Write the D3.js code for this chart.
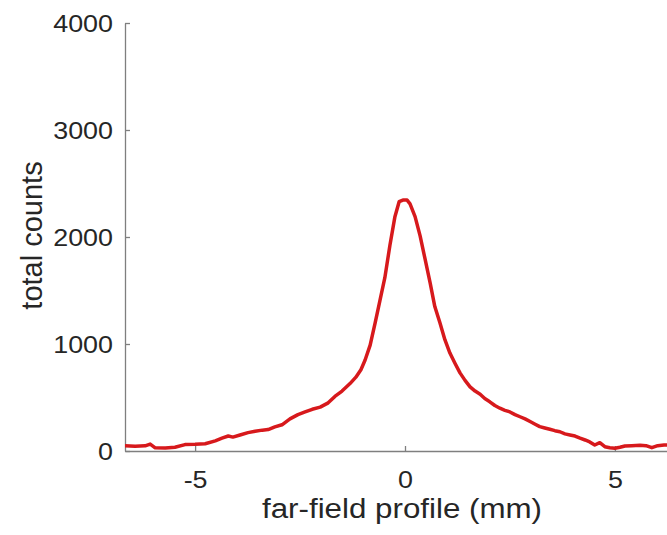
<!DOCTYPE html>
<html><head><meta charset="utf-8">
<script src="https://cdn.jsdelivr.net/npm/d3@7"></script>
<style>body{margin:0;background:#fff}svg{display:block}</style>
</head><body>
<script>
const positionMm = [-6.67,-6.43,-6.19,-6.07,-5.95,-5.71,-5.48,-5.24,-5.00,-4.76,-4.52,-4.36,-4.21,-4.10,-3.93,-3.74,-3.57,-3.40,-3.26,-3.10,-2.93,-2.74,-2.55,-2.38,-2.21,-2.02,-1.83,-1.67,-1.50,-1.31,-1.17,-1.05,-0.95,-0.83,-0.71,-0.60,-0.48,-0.36,-0.24,-0.14,-0.05,0.05,0.12,0.24,0.36,0.48,0.60,0.71,0.83,0.95,1.07,1.19,1.31,1.43,1.55,1.67,1.79,1.90,2.02,2.14,2.26,2.38,2.50,2.62,2.74,2.86,2.98,3.10,3.21,3.33,3.45,3.57,3.69,3.81,3.93,4.05,4.17,4.29,4.40,4.52,4.64,4.76,4.88,5.00,5.12,5.24,5.40,5.60,5.74,5.88,6.02,6.17,6.31];
const totalCounts = [50,45,48,65,30,28,35,60,62,68,95,120,140,130,150,172,185,195,200,225,245,300,340,365,390,410,450,510,560,630,690,760,850,990,1200,1400,1620,1920,2190,2330,2345,2345,2310,2190,2010,1790,1570,1350,1200,1040,915,820,730,660,600,560,530,490,460,425,400,380,365,340,320,300,275,250,228,215,203,190,180,160,150,140,120,103,85,56,78,40,30,25,35,47,50,53,50,31,50,55,56];
const xTicks = [-5, 0, 5];
const yTicks = [0, 1000, 2000, 3000, 4000];

const W = 667, H = 535;
const svg = d3.select("body").append("svg").attr("width", W).attr("height", H);
const x = d3.scaleLinear().domain([-6.67, 6.67]).range([125, 685]);
const y = d3.scaleLinear().domain([0, 4000]).range([451, 23]);
const font = "'Liberation Sans', Arial, sans-serif";
const sx = 1.12;

svg.append("clipPath").attr("id","clip").append("rect")
  .attr("x",125).attr("y",0).attr("width",W-125).attr("height",452);

const axisColor = "#7f7f7f";
const fmt = d => String(d);
const gx = svg.append("g").attr("transform","translate(0,451)")
  .call(d3.axisBottom(x).tickValues(xTicks).tickSizeInner(-5).tickSizeOuter(0).tickPadding(20).tickFormat(fmt));
const gy = svg.append("g").attr("transform","translate(125,0)")
  .call(d3.axisLeft(y).tickValues(yTicks).tickSizeInner(-5).tickSizeOuter(0).tickPadding(12/sx).tickFormat(fmt));
[gx, gy].forEach(g => {
  g.select(".domain").attr("stroke", axisColor).attr("stroke-width", 1.3);
  g.selectAll(".tick line").attr("stroke", axisColor).attr("stroke-width", 1.3);
  g.selectAll(".tick text").attr("fill", "#262626").attr("font-family", font).attr("font-size", 24)
    .attr("transform", `scale(${sx},1)`);
});
gx.selectAll(".tick text").attr("dy", "0.71em");
gy.selectAll(".tick text").attr("dy", "0.35em");

const line = d3.line().x((d,i) => x(positionMm[i])).y(d => y(d));
svg.append("path").datum(totalCounts)
  .attr("clip-path","url(#clip)")
  .attr("fill","none").attr("stroke","#d7191c").attr("stroke-width",3.5)
  .attr("stroke-linejoin","round")
  .attr("d", line);

svg.append("text").attr("transform", `translate(402,518) scale(1.16,1)`).attr("text-anchor","middle")
  .attr("font-family", font).attr("font-size", 27).attr("fill","#262626")
  .text("far-field profile (mm)");
svg.append("text").attr("transform","translate(42,235.5) rotate(-90)").attr("text-anchor","middle")
  .attr("font-family", font).attr("font-size", 29).attr("fill","#262626")
  .text("total counts");
</script>
</body></html>
